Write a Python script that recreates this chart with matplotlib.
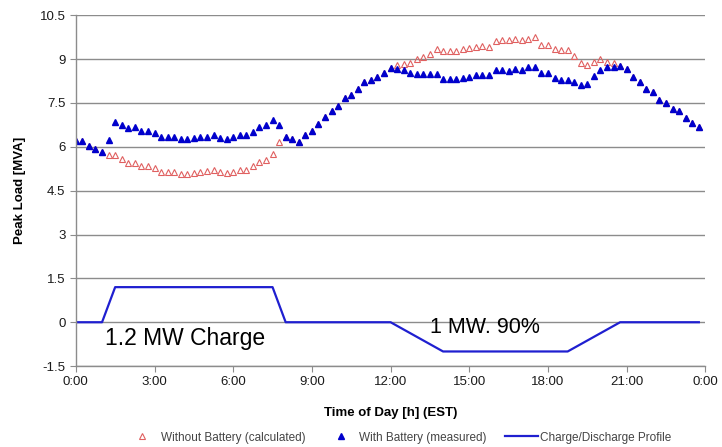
import matplotlib
matplotlib.use("Agg")
import matplotlib.pyplot as plt
import numpy as np

plt.rcParams['font.family'] = ['Liberation Sans', 'DejaVu Sans']

# 15-minute samples over one day (hours)
hours = np.arange(96) * 0.25

# measured load with battery [MVA]
with_battery = [
    6.19, 6.19, 6.02, 5.91, 5.83, 6.23, 6.85, 6.76, 6.65, 6.67, 6.53, 6.53,
    6.48, 6.34, 6.34, 6.34, 6.25, 6.28, 6.31, 6.34, 6.34, 6.39, 6.31, 6.27,
    6.34, 6.39, 6.39, 6.50, 6.68, 6.73, 6.91, 6.73, 6.34, 6.25, 6.16, 6.39,
    6.53, 6.78, 7.02, 7.24, 7.38, 7.67, 7.76, 7.98, 8.23, 8.29, 8.40, 8.54,
    8.69, 8.65, 8.63, 8.52, 8.49, 8.49, 8.48, 8.48, 8.31, 8.31, 8.31, 8.35,
    8.38, 8.46, 8.46, 8.46, 8.63, 8.63, 8.60, 8.65, 8.63, 8.72, 8.74, 8.54,
    8.51, 8.34, 8.29, 8.29, 8.23, 8.12, 8.14, 8.43, 8.63, 8.72, 8.74, 8.76,
    8.66, 8.40, 8.21, 7.98, 7.89, 7.61, 7.51, 7.30, 7.21, 6.98, 6.83, 6.68,
]

# calculated load without battery [MVA]
without_battery = [
    6.19, 6.19, 6.02, 5.91, 5.83, 5.71, 5.72, 5.57, 5.46, 5.46, 5.34, 5.34,
    5.29, 5.15, 5.15, 5.15, 5.08, 5.08, 5.12, 5.15, 5.17, 5.21, 5.15, 5.09,
    5.15, 5.20, 5.21, 5.34, 5.49, 5.54, 5.74, 6.16, 6.34, 6.25, 6.16, 6.39,
    6.53, 6.78, 7.02, 7.24, 7.38, 7.67, 7.76, 7.98, 8.23, 8.29, 8.40, 8.54,
    8.69, 8.80, 8.83, 8.88, 9.00, 9.06, 9.17, 9.33, 9.29, 9.29, 9.29, 9.33,
    9.37, 9.42, 9.45, 9.42, 9.63, 9.65, 9.65, 9.70, 9.65, 9.70, 9.74, 9.48,
    9.48, 9.34, 9.31, 9.31, 9.10, 8.85, 8.80, 8.91, 9.00, 8.91, 8.85, 8.76,
    8.66, 8.40, 8.21, 7.98, 7.89, 7.61, 7.51, 7.30, 7.21, 6.98, 6.83, 6.68,
]

# battery charge/discharge profile [MW], breakpoints
profile_t = [0, 1.0, 1.5, 7.5, 8.0, 12.0, 14.0, 18.75, 20.75, 23.75]
profile_p = [0, 0, 1.2, 1.2, 0, 0, -1.0, -1.0, 0, 0]

xtick_pos = [0, 3, 6, 9, 12, 15, 18, 21, 24]
xtick_labels = ['0:00', '3:00', '6:00', '9:00', '12:00', '15:00', '18:00', '21:00', '0:00']
ytick_pos = [-1.5, 0, 1.5, 3, 4.5, 6, 7.5, 9, 10.5]
ytick_labels = ['-1.5', '0', '1.5', '3', '4.5', '6', '7.5', '9', '10.5']

fig = plt.figure(figsize=(7.22, 4.47), dpi=100)
ax = fig.add_axes([0.105, 0.181, 0.872, 0.785])

grid_col = '#8c8c8c'
ax.plot(hours, without_battery, linestyle='none', marker='^', ms=4.2,
        mfc='none', mec='#e06060', mew=0.8, label='Without Battery (calculated)')
ax.plot(hours, with_battery, linestyle='none', marker='^', ms=4.5,
        color='#0000cc', label='With Battery (measured)')
ax.plot(profile_t, profile_p, color='#1f1fd0', lw=1.6,
        label='Charge/Discharge Profile')

ax.text(1.1, -0.55, '1.2 MW Charge', fontsize=16.5, color='black', va='center')
ax.text(13.5, -0.18, '1 MW. 90%', fontsize=15.5, color='black', va='center')

ax.set_xlim(0, 24)
ax.set_ylim(-1.5, 10.5)
ax.set_xticks(xtick_pos)
ax.set_xticklabels(xtick_labels)
ax.set_yticks(ytick_pos)
ax.set_yticklabels(ytick_labels)
ax.tick_params(axis='both', labelsize=9.5, colors='#1a1a1a', length=4, width=0.8)
ax.tick_params(axis='x', color=grid_col, pad=3)
ax.tick_params(axis='y', color=grid_col)
ax.yaxis.grid(True, color=grid_col, lw=1.0)
ax.set_axisbelow(True)
for s in ['top', 'right']:
    ax.spines[s].set_visible(False)
for s in ['left', 'bottom']:
    ax.spines[s].set_color(grid_col)
    ax.spines[s].set_linewidth(1.0)

ax.set_xlabel('Time of Day [h] (EST)', fontsize=9.5, fontweight='bold', labelpad=14)
ax.set_ylabel('Peak Load [MVA]', fontsize=9.5, fontweight='bold', labelpad=10)

fig.legend(loc='lower center', bbox_to_anchor=(0.552, -0.016), ncol=3,
           frameon=False, fontsize=8.5, handlelength=2.8, columnspacing=1.6,
           handletextpad=0.15, labelcolor='#444444')

fig.savefig('out.png', dpi=100)
